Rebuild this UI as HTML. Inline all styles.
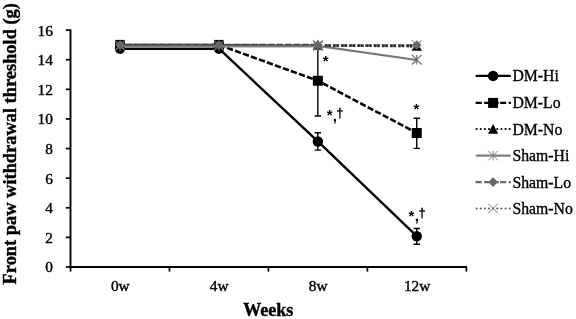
<!DOCTYPE html>
<html><head><meta charset="utf-8"><title>Chart</title>
<style>html,body{margin:0;padding:0;background:#fff;width:576px;height:319px;overflow:hidden;font-family:"Liberation Serif",serif}</style>
</head><body>
<svg width="576" height="319" viewBox="0 0 576 319" style="position:absolute;left:0;top:0;will-change:transform;opacity:0.999">
<rect width="576" height="319" fill="#fff"/>
<g stroke="#000" stroke-width="1.7" fill="none" stroke-linecap="butt">
<path d="M70.5 29.3V267.95" stroke-width="1.9"/>
<path d="M69.55 267.0H467.0" stroke-width="1.9"/>
<path d="M65.8 267.00H70.5"/>
<path d="M65.8 237.39H70.5"/>
<path d="M65.8 207.78H70.5"/>
<path d="M65.8 178.16H70.5"/>
<path d="M65.8 148.55H70.5"/>
<path d="M65.8 118.94H70.5"/>
<path d="M65.8 89.33H70.5"/>
<path d="M65.8 59.72H70.5"/>
<path d="M65.8 30.10H70.5"/>
<path d="M70.50 267.0V271.6"/>
<path d="M169.47 267.0V271.6"/>
<path d="M268.44 267.0V271.6"/>
<path d="M367.41 267.0V271.6"/>
<path d="M466.38 267.0V271.6"/>
</g>
<polyline points="120.00,48.69 218.95,48.69 317.85,141.45 416.75,236.20" fill="none" stroke="#000" stroke-width="2.4" stroke-linejoin="round"/>
<path d="M317.85 132.7V150.1M314.65000000000003 132.7H321.05M314.65000000000003 150.1H321.05" stroke="#000" stroke-width="1.4" fill="none"/>
<path d="M416.75 228.5V244.3M413.55 228.5H419.95M413.55 244.3H419.95" stroke="#000" stroke-width="1.4" fill="none"/>
<circle cx="120.0" cy="48.69" r="5.2" fill="#000"/>
<circle cx="218.95" cy="48.69" r="5.2" fill="#000"/>
<circle cx="317.85" cy="141.45" r="5.2" fill="#000"/>
<circle cx="416.75" cy="236.20" r="5.2" fill="#000"/>
<polyline points="120.00,44.91 218.95,44.91 317.85,80.74 416.75,133.01" fill="none" stroke="#000" stroke-width="2.55" stroke-dasharray="6.3 2.2" stroke-dashoffset="3"/>
<path d="M317.85 45V116M314.65000000000003 45H321.05M314.65000000000003 116H321.05" stroke="#000" stroke-width="1.4" fill="none"/>
<path d="M416.75 118.3V148.4M413.55 118.3H419.95M413.55 148.4H419.95" stroke="#000" stroke-width="1.4" fill="none"/>
<rect x="115.00" y="39.91" width="10" height="10" fill="#000"/>
<rect x="213.95" y="39.91" width="10" height="10" fill="#000"/>
<rect x="312.85" y="75.74" width="10" height="10" fill="#000"/>
<rect x="411.75" y="128.01" width="10" height="10" fill="#000"/>
<path d="M120.0 45.2H317.85" fill="none" stroke="#000" stroke-width="2.2" stroke-dasharray="2.1 2.03"/>
<path d="M325.0 45.6L416.75 46.3" fill="none" stroke="#000" stroke-width="2.3" stroke-dasharray="2.3 1.1 2.3 2.45"/>
<path d="M120.0 39.61000000000003L125.0 49.810000000000024H115.0Z" fill="#000"/>
<path d="M218.95 39.61000000000003L223.95 49.810000000000024H213.95Z" fill="#000"/>
<path d="M317.85 39.61000000000003L322.85 49.810000000000024H312.85Z" fill="#000"/>
<path d="M416.75 40.64642000000002L421.75 50.846420000000016H411.75Z" fill="#000"/>
<path d="M120.0 46.3H317.85" fill="none" stroke="#8c8c8c" stroke-width="2.6"/>
<path d="M120.0 45.4H317.85" fill="none" stroke="#6a6a6a" stroke-width="1.6"/>
<path d="M317.85 45.9L416.75 60.0" fill="none" stroke="#767676" stroke-width="2.1"/>
<path d="M115.2 41.1L124.8 50.699999999999996M115.2 50.699999999999996L124.8 41.1M120.0 41.1V50.699999999999996" stroke="#6a6a6a" stroke-width="1.15" fill="none"/>
<path d="M214.14999999999998 41.1L223.75 50.699999999999996M214.14999999999998 50.699999999999996L223.75 41.1M218.95 41.1V50.699999999999996" stroke="#6a6a6a" stroke-width="1.15" fill="none"/>
<path d="M313.05 41.1L322.65000000000003 50.699999999999996M313.05 50.699999999999996L322.65000000000003 41.1M317.85 41.1V50.699999999999996" stroke="#6a6a6a" stroke-width="1.15" fill="none"/>
<path d="M411.95 54.91600000000001L421.55 64.516M411.95 64.516L421.55 54.91600000000001M416.75 54.91600000000001V64.516" stroke="#6a6a6a" stroke-width="1.15" fill="none"/>
<path d="M121.5 44.4H317.85" stroke="#464646" stroke-width="1.5" stroke-dasharray="6.9 1.7" fill="none"/>
<path d="M324.6 45.55H416.75" stroke="#6e6e6e" stroke-width="2.5" stroke-dasharray="6.5 1.65" fill="none"/>
<path d="M325.0 45.55H416.75" stroke="#2e2e2e" stroke-width="2.3" stroke-dasharray="2.3 1.1 2.3 2.45" fill="none"/>
<path d="M120.0 40.150000000000006L124.8 44.95L120.0 49.75L115.2 44.95Z" fill="#6a6a6a"/>
<path d="M218.95 40.150000000000006L223.75 44.95L218.95 49.75L214.14999999999998 44.95Z" fill="#6a6a6a"/>
<path d="M317.85 40.150000000000006L322.65000000000003 44.95L317.85 49.75L313.05 44.95Z" fill="#6a6a6a"/>
<path d="M416.75 40.150000000000006L421.55 44.95L416.75 49.75L411.95 44.95Z" fill="#6a6a6a"/>
<path d="M115.2 40.2L124.8 49.8M115.2 49.8L124.8 40.2" stroke="#666" stroke-width="1.0" fill="none"/>
<path d="M214.14999999999998 40.2L223.75 49.8M214.14999999999998 49.8L223.75 40.2" stroke="#666" stroke-width="1.0" fill="none"/>
<path d="M313.05 40.2L322.65000000000003 49.8M313.05 49.8L322.65000000000003 40.2" stroke="#666" stroke-width="1.0" fill="none"/>
<path d="M411.95 40.2L421.55 49.8M411.95 49.8L421.55 40.2" stroke="#666" stroke-width="1.0" fill="none"/>
<g font-family="Liberation Sans, sans-serif" font-weight="bold" fill="#000">
<text x="325.55" y="66.0" font-size="15px" text-anchor="middle">*</text>
<text x="416.5" y="114.3" font-size="15px" text-anchor="middle">*</text>
<text x="329.6" y="119.8" font-size="15px" text-anchor="middle">*</text>
<text x="334.9" y="120.6" font-size="15px" text-anchor="middle">,</text>
<text x="339.75" y="116.5" font-size="12px" text-anchor="middle" stroke="#000" stroke-width="0.3">†</text>
<text x="411.45" y="220.6" font-size="15px" text-anchor="middle">*</text>
<text x="416.95" y="221.4" font-size="15px" text-anchor="middle">,</text>
<text x="422.0" y="217.3" font-size="12px" text-anchor="middle" stroke="#000" stroke-width="0.3">†</text>
</g>
<path d="M476.70000000000005 75.9H509.8" stroke="#000" stroke-width="2.4" stroke-linecap="round"/>
<circle cx="493.1" cy="75.9" r="5.25" fill="#000"/>
<path d="M475.6 102.9H481.8M484.1 102.9H490.2M492.6 102.9H498.7M500.1 102.9H506.2M508.8 102.9H510.9" stroke="#000" stroke-width="2.4" fill="none"/>
<rect x="488.1" y="97.9" width="10" height="10" fill="#000"/>
<path d="M476.6 129.0H511" stroke="#000" stroke-width="2.2" stroke-linecap="round" stroke-dasharray="0.01 4.13" fill="none"/>
<path d="M493.1 123.9L498.15000000000003 133.75H488.05Z" fill="#000"/>
<path d="M476.70000000000005 155.55H509.8" stroke="#7f7f7f" stroke-width="2.3" stroke-linecap="round"/>
<path d="M488.3 150.75L497.90000000000003 160.35000000000002M488.3 160.35000000000002L497.90000000000003 150.75M493.1 150.75V160.35000000000002" stroke="#7a7a7a" stroke-width="0.95" fill="none"/>
<path d="M475.6 182.05H481.8M484.1 182.05H490.2M492.6 182.05H498.7M500.1 182.05H506.2M508.8 182.05H510.9" stroke="#6a6a6a" stroke-width="2.2" fill="none"/>
<path d="M493.1 177.15L498.0 182.05L493.1 186.95000000000002L488.20000000000005 182.05Z" fill="#6a6a6a"/>
<path d="M476.6 208.45H511" stroke="#5e5e5e" stroke-width="2.1" stroke-linecap="round" stroke-dasharray="0.01 4.13" fill="none"/>
<path d="M488.3 203.64999999999998L497.90000000000003 213.25M488.3 213.25L497.90000000000003 203.64999999999998" stroke="#707070" stroke-width="0.95" fill="none"/>
<g font-family="Liberation Serif, serif" font-size="15.75px" fill="#000" stroke="#000" stroke-width="0.35">
<text x="512.4" y="81.4">DM-Hi</text>
<text x="512.4" y="108.4">DM-Lo</text>
<text x="512.4" y="134.5">DM-No</text>
<text x="512.4" y="161.1">Sham-Hi</text>
<text x="512.4" y="187.6">Sham-Lo</text>
<text x="512.4" y="213.9">Sham-No</text>
</g>
<g font-family="Liberation Serif, serif" font-size="15.3px" fill="#000" stroke="#000" stroke-width="0.4" text-anchor="end">
<text x="52.9" y="272.4">0</text>
<text x="52.9" y="242.8">2</text>
<text x="52.9" y="213.2">4</text>
<text x="52.9" y="183.6">6</text>
<text x="52.9" y="154.0">8</text>
<text x="52.9" y="124.3">10</text>
<text x="52.9" y="94.7">12</text>
<text x="52.9" y="65.1">14</text>
<text x="52.9" y="35.5">16</text>
</g>
<g font-family="Liberation Serif, serif" font-size="15.3px" fill="#000" stroke="#000" stroke-width="0.4" text-anchor="middle">
<text x="120.3" y="291.0">0w</text>
<text x="219.2" y="291.0">4w</text>
<text x="318.2" y="291.0">8w</text>
<text x="417.1" y="291.0">12w</text>
</g>
<g font-family="Liberation Serif, serif" font-weight="bold" font-size="18.4px" fill="#000" stroke="#000" stroke-width="0.4">
<text x="268.2" y="315.9" text-anchor="middle" font-size="18px">Weeks</text>
<text transform="translate(16.3 284.4) rotate(-90)">Front paw withdrawal threshold (g)</text>
</g>
</svg>
</body></html>
